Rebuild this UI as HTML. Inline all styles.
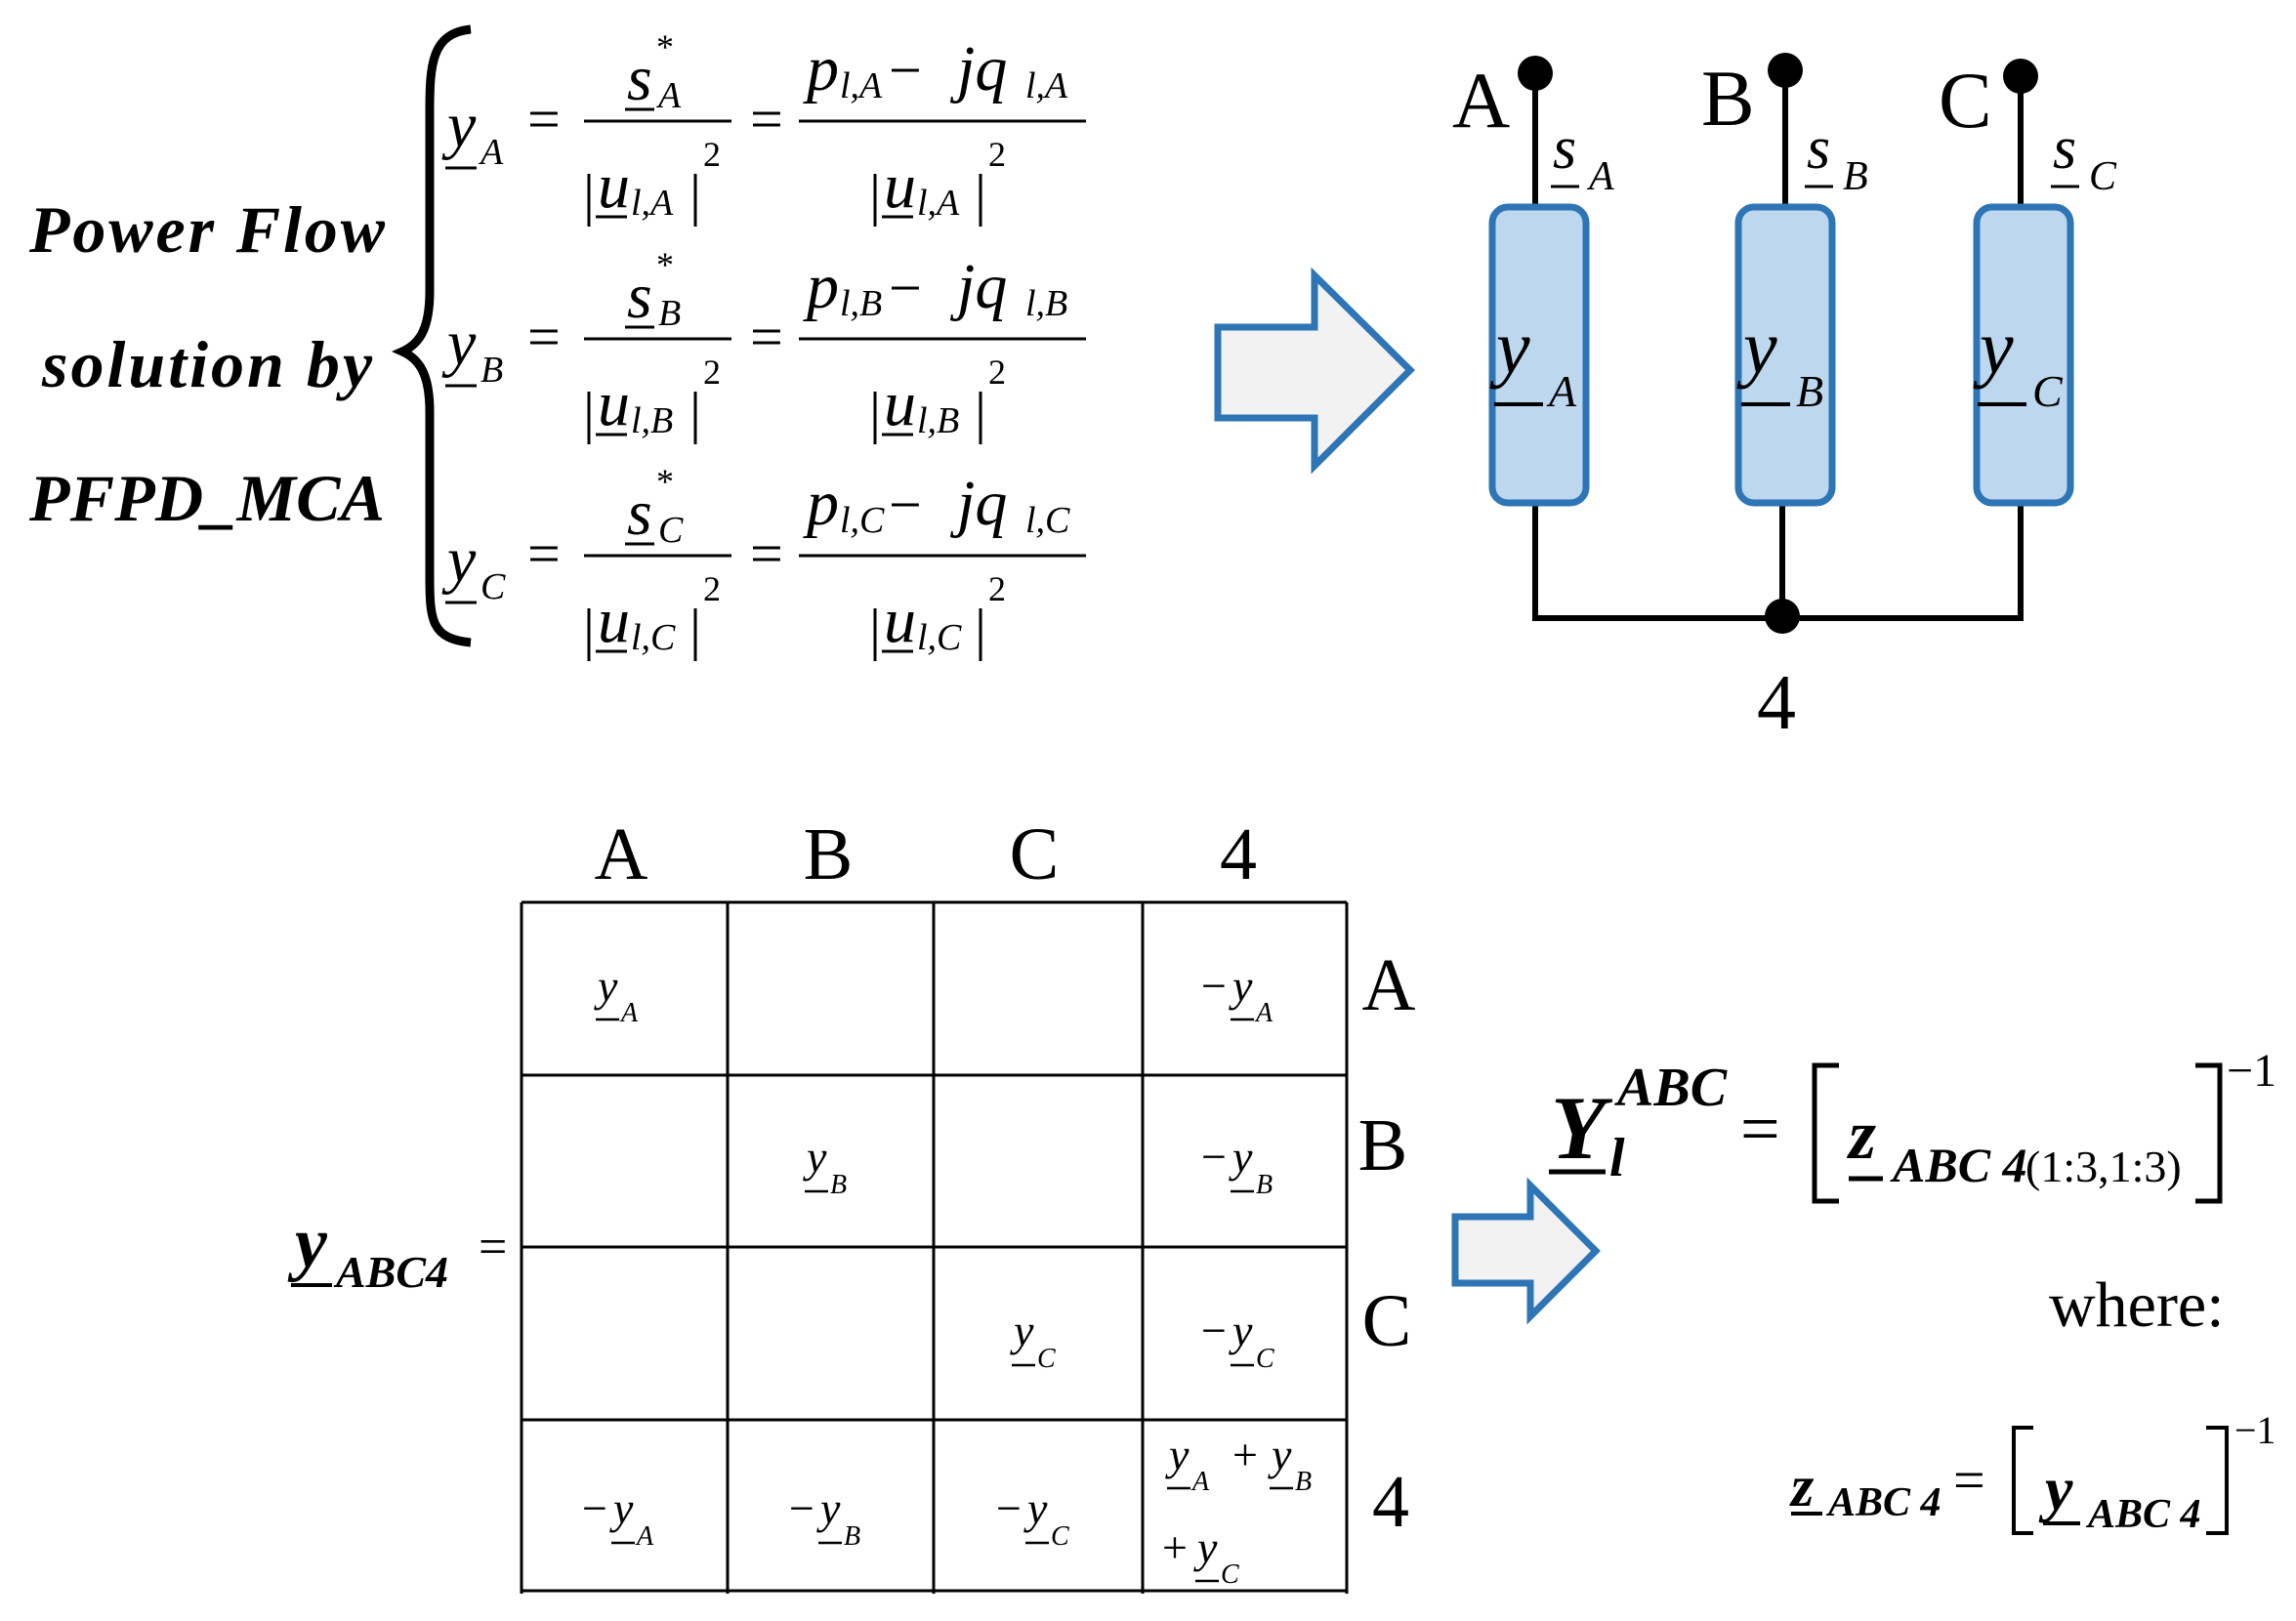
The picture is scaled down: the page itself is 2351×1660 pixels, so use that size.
<!DOCTYPE html>
<html><head><meta charset="utf-8"><style>
html,body{margin:0;padding:0;background:#fff;}
svg{display:block}
text{font-family:"Liberation Serif",serif;fill:#000}
.i{font-style:italic}
.bi{font-style:italic;font-weight:bold}
</style></head><body>
<svg width="2351" height="1660" viewBox="0 0 2351 1660" xmlns="http://www.w3.org/2000/svg">
<!-- Left title -->
<text class="bi" x="212" y="258" font-size="68" text-anchor="middle" textLength="364">Power Flow</text>
<text class="bi" x="212" y="396" font-size="68" text-anchor="middle" textLength="338">solution by</text>
<text class="bi" x="212" y="533" font-size="68" text-anchor="middle" textLength="364">PFPD_MCA</text>
<!-- Brace -->
<path d="M482,30 C442,34 440,66 440,114 L440,298 C440,336 430,352 412,360 C430,368 440,384 440,422 L440,590 C440,636 442,654 482,658" fill="none" stroke="#000" stroke-width="9"/>

<!-- equation rows -->
<g id="rowA">
<text class="i" x="458" y="150" font-size="66">y</text>
<text class="i" x="492" y="168" font-size="38">A</text>
<line x1="456" y1="172" x2="488" y2="172" stroke="#000" stroke-width="3"/>
<text x="540" y="142" font-size="60">=</text>
<text class="i" x="642" y="102" font-size="66">s</text>
<text x="672" y="60" font-size="36">*</text>
<text class="i" x="674" y="110" font-size="38">A</text>
<line x1="640" y1="112" x2="670" y2="112" stroke="#000" stroke-width="3"/>
<line x1="598" y1="124" x2="749" y2="124" stroke="#000" stroke-width="3"/>
<line x1="603" y1="178" x2="603" y2="232" stroke="#000" stroke-width="3"/>
<text class="i" x="612" y="212" font-size="66">u</text>
<text class="i" x="646" y="220" font-size="38">l,A</text>
<line x1="610" y1="222" x2="642" y2="222" stroke="#000" stroke-width="3"/>
<line x1="712" y1="178" x2="712" y2="232" stroke="#000" stroke-width="3"/>
<text x="720" y="170" font-size="36">2</text>
<text x="768" y="142" font-size="60">=</text>
<text class="i" x="826" y="92" font-size="66">p</text>
<text class="i" x="860" y="100" font-size="38">l,A</text>
<text x="910" y="92" font-size="60">−</text>
<text class="i" x="980" y="92" font-size="66">jq</text>
<text class="i" x="1050" y="100" font-size="38">l,A</text>
<line x1="818" y1="124" x2="1112" y2="124" stroke="#000" stroke-width="3"/>
<line x1="896" y1="178" x2="896" y2="232" stroke="#000" stroke-width="3"/>
<text class="i" x="905" y="212" font-size="66">u</text>
<text class="i" x="939" y="220" font-size="38">l,A</text>
<line x1="903" y1="222" x2="935" y2="222" stroke="#000" stroke-width="3"/>
<line x1="1004" y1="178" x2="1004" y2="232" stroke="#000" stroke-width="3"/>
<text x="1012" y="170" font-size="36">2</text>
</g>
<g transform="translate(0,223)">
<text class="i" x="458" y="150" font-size="66">y</text>
<text class="i" x="492" y="168" font-size="38">B</text>
<line x1="456" y1="172" x2="488" y2="172" stroke="#000" stroke-width="3"/>
<text x="540" y="142" font-size="60">=</text>
<text class="i" x="642" y="102" font-size="66">s</text>
<text x="672" y="60" font-size="36">*</text>
<text class="i" x="674" y="110" font-size="38">B</text>
<line x1="640" y1="112" x2="670" y2="112" stroke="#000" stroke-width="3"/>
<line x1="598" y1="124" x2="749" y2="124" stroke="#000" stroke-width="3"/>
<line x1="603" y1="178" x2="603" y2="232" stroke="#000" stroke-width="3"/>
<text class="i" x="612" y="212" font-size="66">u</text>
<text class="i" x="646" y="220" font-size="38">l,B</text>
<line x1="610" y1="222" x2="642" y2="222" stroke="#000" stroke-width="3"/>
<line x1="712" y1="178" x2="712" y2="232" stroke="#000" stroke-width="3"/>
<text x="720" y="170" font-size="36">2</text>
<text x="768" y="142" font-size="60">=</text>
<text class="i" x="826" y="92" font-size="66">p</text>
<text class="i" x="860" y="100" font-size="38">l,B</text>
<text x="910" y="92" font-size="60">−</text>
<text class="i" x="980" y="92" font-size="66">jq</text>
<text class="i" x="1050" y="100" font-size="38">l,B</text>
<line x1="818" y1="124" x2="1112" y2="124" stroke="#000" stroke-width="3"/>
<line x1="896" y1="178" x2="896" y2="232" stroke="#000" stroke-width="3"/>
<text class="i" x="905" y="212" font-size="66">u</text>
<text class="i" x="939" y="220" font-size="38">l,B</text>
<line x1="903" y1="222" x2="935" y2="222" stroke="#000" stroke-width="3"/>
<line x1="1004" y1="178" x2="1004" y2="232" stroke="#000" stroke-width="3"/>
<text x="1012" y="170" font-size="36">2</text>
</g>
<g transform="translate(0,445)">
<text class="i" x="458" y="150" font-size="66">y</text>
<text class="i" x="492" y="168" font-size="38">C</text>
<line x1="456" y1="172" x2="488" y2="172" stroke="#000" stroke-width="3"/>
<text x="540" y="142" font-size="60">=</text>
<text class="i" x="642" y="102" font-size="66">s</text>
<text x="672" y="60" font-size="36">*</text>
<text class="i" x="674" y="110" font-size="38">C</text>
<line x1="640" y1="112" x2="670" y2="112" stroke="#000" stroke-width="3"/>
<line x1="598" y1="124" x2="749" y2="124" stroke="#000" stroke-width="3"/>
<line x1="603" y1="178" x2="603" y2="232" stroke="#000" stroke-width="3"/>
<text class="i" x="612" y="212" font-size="66">u</text>
<text class="i" x="646" y="220" font-size="38">l,C</text>
<line x1="610" y1="222" x2="642" y2="222" stroke="#000" stroke-width="3"/>
<line x1="712" y1="178" x2="712" y2="232" stroke="#000" stroke-width="3"/>
<text x="720" y="170" font-size="36">2</text>
<text x="768" y="142" font-size="60">=</text>
<text class="i" x="826" y="92" font-size="66">p</text>
<text class="i" x="860" y="100" font-size="38">l,C</text>
<text x="910" y="92" font-size="60">−</text>
<text class="i" x="980" y="92" font-size="66">jq</text>
<text class="i" x="1050" y="100" font-size="38">l,C</text>
<line x1="818" y1="124" x2="1112" y2="124" stroke="#000" stroke-width="3"/>
<line x1="896" y1="178" x2="896" y2="232" stroke="#000" stroke-width="3"/>
<text class="i" x="905" y="212" font-size="66">u</text>
<text class="i" x="939" y="220" font-size="38">l,C</text>
<line x1="903" y1="222" x2="935" y2="222" stroke="#000" stroke-width="3"/>
<line x1="1004" y1="178" x2="1004" y2="232" stroke="#000" stroke-width="3"/>
<text x="1012" y="170" font-size="36">2</text>
</g>

<!-- Arrow 1 -->
<polygon points="1247,335 1346,335 1346,282 1444,379 1346,477 1346,428 1247,428" fill="#f2f2f2" stroke="#2e75b6" stroke-width="7"/>

<!-- Circuit -->
<g transform="translate(-6,0)">
<g stroke="#000" stroke-width="6" fill="none">
<line x1="1578" y1="75" x2="1578" y2="212"/>
<line x1="1834" y1="72" x2="1834" y2="212"/>
<line x1="2075" y1="78" x2="2075" y2="212"/>
<polyline points="1578,515 1578,633 2075,633 2075,515"/>
<line x1="1831" y1="515" x2="1831" y2="633"/>
</g>
<circle cx="1578" cy="75" r="18" fill="#000"/>
<circle cx="1834" cy="72" r="18" fill="#000"/>
<circle cx="2075" cy="78" r="18" fill="#000"/>
<circle cx="1831" cy="631" r="18" fill="#000"/>
<g fill="#bdd7ee" stroke="#2e75b6" stroke-width="7">
<rect x="1534" y="212" width="96" height="303" rx="16"/>
<rect x="1786" y="212" width="96" height="303" rx="16"/>
<rect x="2030" y="212" width="96" height="303" rx="16"/>
</g>
<text x="1493" y="130" font-size="82">A</text>
<text x="1748" y="128" font-size="82">B</text>
<text x="1991" y="130" font-size="82">C</text>
<text class="i" x="1596" y="172" font-size="62">s</text>
<text class="i" x="1633" y="194" font-size="42">A</text>
<line x1="1594" y1="191" x2="1623" y2="191" stroke="#000" stroke-width="3"/>
<text class="i" x="1856" y="172" font-size="62">s</text>
<text class="i" x="1893" y="194" font-size="42">B</text>
<line x1="1854" y1="191" x2="1883" y2="191" stroke="#000" stroke-width="3"/>
<text class="i" x="2108" y="172" font-size="62">s</text>
<text class="i" x="2145" y="194" font-size="42">C</text>
<line x1="2106" y1="191" x2="2135" y2="191" stroke="#000" stroke-width="3"/>
<text class="i" x="1538" y="382" font-size="78">y</text>
<text class="i" x="1592" y="416" font-size="46">A</text>
<line x1="1536" y1="414" x2="1586" y2="414" stroke="#000" stroke-width="4"/>
<text class="i" x="1791" y="382" font-size="78">y</text>
<text class="i" x="1845" y="416" font-size="46">B</text>
<line x1="1789" y1="414" x2="1839" y2="414" stroke="#000" stroke-width="4"/>
<text class="i" x="2033" y="382" font-size="78">y</text>
<text class="i" x="2087" y="416" font-size="46">C</text>
<line x1="2031" y1="414" x2="2081" y2="414" stroke="#000" stroke-width="4"/>
<text x="1825" y="746" font-size="80" text-anchor="middle">4</text>
</g>

<!-- Matrix -->
<g stroke="#000" stroke-width="3">
<line x1="534" y1="924" x2="1379" y2="924"/>
<line x1="534" y1="1101" x2="1379" y2="1101"/>
<line x1="534" y1="1277" x2="1379" y2="1277"/>
<line x1="534" y1="1454" x2="1379" y2="1454"/>
<line x1="534" y1="1629" x2="1379" y2="1629"/>
<line x1="534" y1="924" x2="534" y2="1632"/>
<line x1="745" y1="924" x2="745" y2="1632"/>
<line x1="956" y1="924" x2="956" y2="1632"/>
<line x1="1170" y1="924" x2="1170" y2="1632"/>
<line x1="1379" y1="924" x2="1379" y2="1632"/>
</g>
<g font-size="76" text-anchor="middle">
<text x="636" y="900">A</text><text x="848" y="900">B</text><text x="1059" y="900">C</text><text x="1268" y="900">4</text>
<text x="1422" y="1034">A</text><text x="1416" y="1198">B</text><text x="1420" y="1378">C</text><text x="1424" y="1563">4</text>
</g>
<g font-size="46">
<text class="i" x="612" y="1025">y</text><text class="i" x="636" y="1046" font-size="28">A</text><line x1="610" y1="1044" x2="634" y2="1044" stroke="#000" stroke-width="2.5"/>
<text x="1230" y="1025">−</text><text class="i" x="1262" y="1025">y</text><text class="i" x="1286" y="1046" font-size="28">A</text><line x1="1260" y1="1044" x2="1284" y2="1044" stroke="#000" stroke-width="2.5"/>
<text class="i" x="826" y="1200">y</text><text class="i" x="850" y="1222" font-size="28">B</text><line x1="824" y1="1220" x2="848" y2="1220" stroke="#000" stroke-width="2.5"/>
<text x="1230" y="1200">−</text><text class="i" x="1262" y="1200">y</text><text class="i" x="1286" y="1222" font-size="28">B</text><line x1="1260" y1="1220" x2="1284" y2="1220" stroke="#000" stroke-width="2.5"/>
<text class="i" x="1038" y="1378">y</text><text class="i" x="1062" y="1400" font-size="28">C</text><line x1="1036" y1="1398" x2="1060" y2="1398" stroke="#000" stroke-width="2.5"/>
<text x="1230" y="1378">−</text><text class="i" x="1262" y="1378">y</text><text class="i" x="1286" y="1400" font-size="28">C</text><line x1="1260" y1="1398" x2="1284" y2="1398" stroke="#000" stroke-width="2.5"/>
<text x="596" y="1560">−</text><text class="i" x="628" y="1560">y</text><text class="i" x="652" y="1582" font-size="28">A</text><line x1="626" y1="1580" x2="650" y2="1580" stroke="#000" stroke-width="2.5"/>
<text x="808" y="1560">−</text><text class="i" x="840" y="1560">y</text><text class="i" x="864" y="1582" font-size="28">B</text><line x1="838" y1="1580" x2="862" y2="1580" stroke="#000" stroke-width="2.5"/>
<text x="1020" y="1560">−</text><text class="i" x="1052" y="1560">y</text><text class="i" x="1076" y="1582" font-size="28">C</text><line x1="1050" y1="1580" x2="1074" y2="1580" stroke="#000" stroke-width="2.5"/>
<text class="i" x="1197" y="1505">y</text><text class="i" x="1221" y="1526" font-size="28">A</text><line x1="1195" y1="1524" x2="1219" y2="1524" stroke="#000" stroke-width="2.5"/>
<text x="1262" y="1505">+</text><text class="i" x="1302" y="1505">y</text><text class="i" x="1326" y="1526" font-size="28">B</text><line x1="1300" y1="1524" x2="1324" y2="1524" stroke="#000" stroke-width="2.5"/>
<text x="1190" y="1600">+</text><text class="i" x="1226" y="1600">y</text><text class="i" x="1250" y="1621" font-size="28">C</text><line x1="1224" y1="1619" x2="1248" y2="1619" stroke="#000" stroke-width="2.5"/>
</g>
<text class="bi" x="302" y="1297" font-size="74">y</text>
<text class="bi" x="344" y="1318" font-size="46">ABC4</text>
<line x1="298" y1="1316" x2="340" y2="1316" stroke="#000" stroke-width="4"/>
<text x="490" y="1294" font-size="52">=</text>

<!-- Arrow 2 -->
<polygon points="1490,1246 1567,1246 1567,1214 1634,1281 1567,1348 1567,1314 1490,1314" fill="#f2f2f2" stroke="#2e75b6" stroke-width="7"/>

<!-- Y_l^ABC -->
<text class="bi" x="1588" y="1186" font-size="92">Y</text>
<line x1="1586" y1="1200" x2="1644" y2="1200" stroke="#000" stroke-width="5"/>
<text class="bi" x="1656" y="1132" font-size="56">ABC</text>
<text class="bi" x="1648" y="1204" font-size="56">l</text>
<text x="1782" y="1180" font-size="72">=</text>
<path d="M1883,1091 L1858,1091 L1858,1230 L1883,1230" fill="none" stroke="#000" stroke-width="5"/>
<text class="bi" x="1893" y="1186" font-size="72">z</text>
<line x1="1893" y1="1207" x2="1928" y2="1207" stroke="#000" stroke-width="5"/>
<text class="bi" x="1938" y="1210" font-size="50">ABC 4</text>
<text x="2074" y="1210" font-size="46">(1:3,1:3)</text>
<path d="M2248,1091 L2273,1091 L2273,1230 L2248,1230" fill="none" stroke="#000" stroke-width="5"/>
<text x="2280" y="1112" font-size="48">−1</text>

<text x="2098" y="1358" font-size="66">where:</text>

<text class="bi" x="1834" y="1542" font-size="60">z</text>
<line x1="1834" y1="1550" x2="1866" y2="1550" stroke="#000" stroke-width="4"/>
<text class="bi" x="1872" y="1552" font-size="42">ABC 4</text>
<text x="2000" y="1535" font-size="58">=</text>
<path d="M2082,1462 L2062,1462 L2062,1570 L2082,1570" fill="none" stroke="#000" stroke-width="4"/>
<text class="bi" x="2094" y="1546" font-size="64">y</text>
<line x1="2092" y1="1560" x2="2130" y2="1560" stroke="#000" stroke-width="4"/>
<text class="bi" x="2138" y="1564" font-size="42">ABC 4</text>
<path d="M2259,1462 L2280,1462 L2280,1570 L2259,1570" fill="none" stroke="#000" stroke-width="4"/>
<text x="2288" y="1478" font-size="40">−1</text>
</svg>
</body></html>
